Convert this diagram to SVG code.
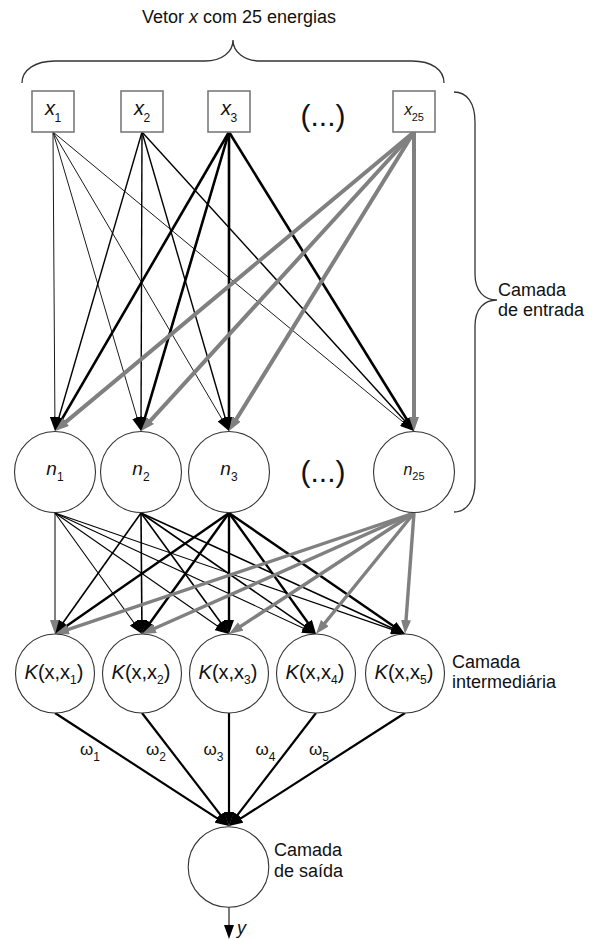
<svg xmlns="http://www.w3.org/2000/svg" width="605" height="940" viewBox="0 0 605 940">
<style>
text{font-family:"Liberation Sans",Arial,sans-serif;fill:#111}
.it{font-style:italic}
.sub{font-family:"Liberation Sans Narrow","Liberation Sans",sans-serif;font-style:normal}
.box{fill:#fff;stroke:#7a7a7a;stroke-width:1.6}
.node{fill:#fff;stroke:#333;stroke-width:1.1}
.brace{fill:none;stroke:#333;stroke-width:1.3}
line{fill:none}
.a1{stroke:#1a1a1a;stroke-width:1}
.a2{stroke:#000;stroke-width:1.4}
.a3{stroke:#000;stroke-width:2.6}
.a4{stroke:#808080;stroke-width:4}
.b0{stroke:#808080;stroke-width:2}
.b1{stroke:#000;stroke-width:1.1}
.b2{stroke:#000;stroke-width:1.6}
.b3{stroke:#000;stroke-width:2.4}
.b4{stroke:#808080;stroke-width:3.4}
.c{stroke:#000;stroke-width:2.2}
.yo{stroke:#333;stroke-width:1.3}
.bk{marker-end:url(#ab)}
.gy{marker-end:url(#ag)}
</style>
<defs>
<marker id="ab" markerUnits="userSpaceOnUse" viewBox="0 0 14 10" markerWidth="14" markerHeight="10" refX="6" refY="5" orient="auto"><path d="M0,0 L14,5 L0,10 z" fill="#000"/></marker>
<marker id="ag" markerUnits="userSpaceOnUse" viewBox="0 0 14 10" markerWidth="14" markerHeight="10" refX="6" refY="5" orient="auto"><path d="M0,0 L14,5 L0,10 z" fill="#808080"/></marker>
</defs>

<g id="title">
<text x="239" y="23" font-size="18" text-anchor="middle">Vetor <tspan class="it">x</tspan> com 25 energias</text>
<path class="brace" d="M22,83 C22,70 35,61 55,61 L205,61 C222,61 233,52 233,40 C233,52 244,61 261,61 L412,61 C432,61 444,70 444,83"/>
</g>

<g id="input-brace">
<path class="brace" d="M454,92 C467,92 475,103 475,122 L475,274 C475,291 484,300 497,300 C484,300 475,309 475,326 L475,482 C475,500 467,512 454,512"/>
<text x="498" y="296" font-size="18">Camada</text>
<text x="498" y="316" font-size="18">de entrada</text>
</g>

<g id="connectors">
<line class="a1 bk" x1="53" y1="132" x2="54.95" y2="423"/>
<line class="a1 bk" x1="53" y1="132" x2="138.74" y2="423.33"/>
<line class="a1 bk" x1="53" y1="132" x2="224.94" y2="424.11"/>
<line class="a1 bk" x1="53" y1="132" x2="407.84" y2="425.9"/>
<line class="a2 bk" x1="142" y1="132" x2="57.24" y2="423.32"/>
<line class="a2 bk" x1="142" y1="132" x2="141.03" y2="423"/>
<line class="a2 bk" x1="142" y1="132" x2="226.76" y2="423.32"/>
<line class="a2 bk" x1="142" y1="132" x2="408.62" y2="425.08"/>
<line class="a3 bk" x1="229" y1="132" x2="59.02" y2="424.09"/>
<line class="a3 bk" x1="229" y1="132" x2="143.26" y2="423.33"/>
<line class="a3 bk" x1="229" y1="132" x2="229" y2="423"/>
<line class="a3 bk" x1="229" y1="132" x2="409.79" y2="424.2"/>
<line class="a4 gy" x1="414" y1="132" x2="61.15" y2="425.88"/>
<line class="a4 gy" x1="414" y1="132" x2="146.39" y2="425.09"/>
<line class="a4 gy" x1="414" y1="132" x2="233.21" y2="424.2"/>
<line class="a4 gy" x1="414" y1="132" x2="414" y2="423"/>
<line class="b0 gy" x1="55" y1="513" x2="55" y2="626"/>
<line class="b1 bk" x1="55" y1="513" x2="137.33" y2="627.5"/>
<line class="b1 bk" x1="55" y1="513" x2="222.43" y2="629.43"/>
<line class="b1 bk" x1="55" y1="513" x2="308.74" y2="630.64"/>
<line class="b1 bk" x1="55" y1="513" x2="397.44" y2="631.39"/>
<line class="b2 bk" x1="141" y1="513" x2="59.63" y2="627.48"/>
<line class="b2 bk" x1="141" y1="513" x2="141.93" y2="626"/>
<line class="b2 bk" x1="141" y1="513" x2="224.29" y2="627.53"/>
<line class="b2 bk" x1="141" y1="513" x2="309.42" y2="629.45"/>
<line class="b2 bk" x1="141" y1="513" x2="397.73" y2="630.67"/>
<line class="b3 bk" x1="229" y1="513" x2="61.57" y2="629.43"/>
<line class="b3 bk" x1="229" y1="513" x2="146.67" y2="627.5"/>
<line class="b3 bk" x1="229" y1="513" x2="229" y2="626"/>
<line class="b3 bk" x1="229" y1="513" x2="311.33" y2="627.5"/>
<line class="b3 bk" x1="229" y1="513" x2="398.41" y2="629.47"/>
<line class="b4 gy" x1="414" y1="513" x2="62.58" y2="631.44"/>
<line class="b4 gy" x1="414" y1="513" x2="149.31" y2="630.75"/>
<line class="b4 gy" x1="414" y1="513" x2="235.7" y2="629.62"/>
<line class="b4 gy" x1="414" y1="513" x2="321.03" y2="627.78"/>
<line class="b4 gy" x1="414" y1="513" x2="405.59" y2="626.02"/>
<line class="c bk" x1="55" y1="713" x2="222.29" y2="821.64"/>
<line class="c bk" x1="142" y1="713" x2="224.12" y2="819.66"/>
<line class="c bk" x1="229" y1="713" x2="229" y2="818"/>
<line class="c bk" x1="316" y1="713" x2="233.88" y2="819.66"/>
<line class="c bk" x1="405" y1="713" x2="235.73" y2="821.68"/>
<line class="yo bk" x1="229" y1="907" x2="229" y2="931"/>
</g>

<g id="x1"><rect class="box" x="32" y="91" width="42" height="41"/><text x="53" y="115" font-size="20" text-anchor="middle"><tspan class="it">x</tspan><tspan class="sub" font-size="12" dx="-0.5" dy="7">1</tspan></text></g>
<g id="x2"><rect class="box" x="121" y="91" width="42" height="41"/><text x="142" y="115" font-size="20" text-anchor="middle"><tspan class="it">x</tspan><tspan class="sub" font-size="12" dx="-0.5" dy="7">2</tspan></text></g>
<g id="x3"><rect class="box" x="208" y="91" width="42" height="41"/><text x="229" y="115" font-size="20" text-anchor="middle"><tspan class="it">x</tspan><tspan class="sub" font-size="12" dx="-0.5" dy="7">3</tspan></text></g>
<g id="xdots"><text x="323" y="125.5" font-size="30" text-anchor="middle">(...)</text></g>
<g id="x25"><rect class="box" x="393" y="91" width="42" height="41"/><text x="414" y="115" font-size="16" text-anchor="middle"><tspan class="it">x</tspan><tspan class="sub" font-size="11" dx="-0.5" dy="6">25</tspan></text></g>

<g id="n1"><circle class="node" cx="55" cy="472" r="40.5"/><text x="55" y="475" font-size="19" text-anchor="middle"><tspan class="it">n</tspan><tspan class="sub" font-size="12" dy="6">1</tspan></text></g>
<g id="n2"><circle class="node" cx="141" cy="472" r="40.5"/><text x="141" y="475" font-size="19" text-anchor="middle"><tspan class="it">n</tspan><tspan class="sub" font-size="12" dy="6">2</tspan></text></g>
<g id="n3"><circle class="node" cx="229" cy="472" r="40.5"/><text x="229" y="475" font-size="19" text-anchor="middle"><tspan class="it">n</tspan><tspan class="sub" font-size="12" dy="6">3</tspan></text></g>
<g id="ndots"><text x="323" y="482" font-size="30" text-anchor="middle">(...)</text></g>
<g id="n25"><circle class="node" cx="414" cy="472" r="40.5"/><text x="414" y="475" font-size="16" text-anchor="middle"><tspan class="it">n</tspan><tspan class="sub" font-size="11" dy="5">25</tspan></text></g>

<g id="K1"><circle class="node" cx="55" cy="673.5" r="39.5"/><text x="54" y="679" font-size="20" text-anchor="middle"><tspan class="it">K</tspan>(x,x<tspan class="sub" font-size="12" dy="5">1</tspan><tspan dy="-5">)</tspan></text></g>
<g id="K2"><circle class="node" cx="142" cy="673.5" r="39.5"/><text x="141" y="679" font-size="20" text-anchor="middle"><tspan class="it">K</tspan>(x,x<tspan class="sub" font-size="12" dy="5">2</tspan><tspan dy="-5">)</tspan></text></g>
<g id="K3"><circle class="node" cx="229" cy="673.5" r="39.5"/><text x="228" y="679" font-size="20" text-anchor="middle"><tspan class="it">K</tspan>(x,x<tspan class="sub" font-size="12" dy="5">3</tspan><tspan dy="-5">)</tspan></text></g>
<g id="K4"><circle class="node" cx="316" cy="673.5" r="39.5"/><text x="315" y="679" font-size="20" text-anchor="middle"><tspan class="it">K</tspan>(x,x<tspan class="sub" font-size="12" dy="5">4</tspan><tspan dy="-5">)</tspan></text></g>
<g id="K5"><circle class="node" cx="405" cy="673.5" r="39.5"/><text x="404" y="679" font-size="20" text-anchor="middle"><tspan class="it">K</tspan>(x,x<tspan class="sub" font-size="12" dy="5">5</tspan><tspan dy="-5">)</tspan></text></g>
<g id="mid-label"><text x="452" y="668" font-size="18">Camada</text><text x="452" y="688" font-size="18">intermediária</text></g>

<g id="weights">
<text x="80" y="755" font-size="17">ω<tspan class="sub" font-size="12" dy="6">1</tspan></text>
<text x="146" y="755" font-size="17">ω<tspan class="sub" font-size="12" dy="6">2</tspan></text>
<text x="203.5" y="755" font-size="17">ω<tspan class="sub" font-size="12" dy="6">3</tspan></text>
<text x="255.5" y="755" font-size="17">ω<tspan class="sub" font-size="12" dy="6">4</tspan></text>
<text x="309" y="755" font-size="17">ω<tspan class="sub" font-size="12" dy="6">5</tspan></text>
</g>

<g id="output"><circle class="node" cx="228.5" cy="867" r="40.3"/><text x="274" y="856" font-size="18">Camada</text><text x="274" y="877" font-size="18">de saída</text><text x="237" y="934" font-size="18" class="it">y</text></g>
</svg>
